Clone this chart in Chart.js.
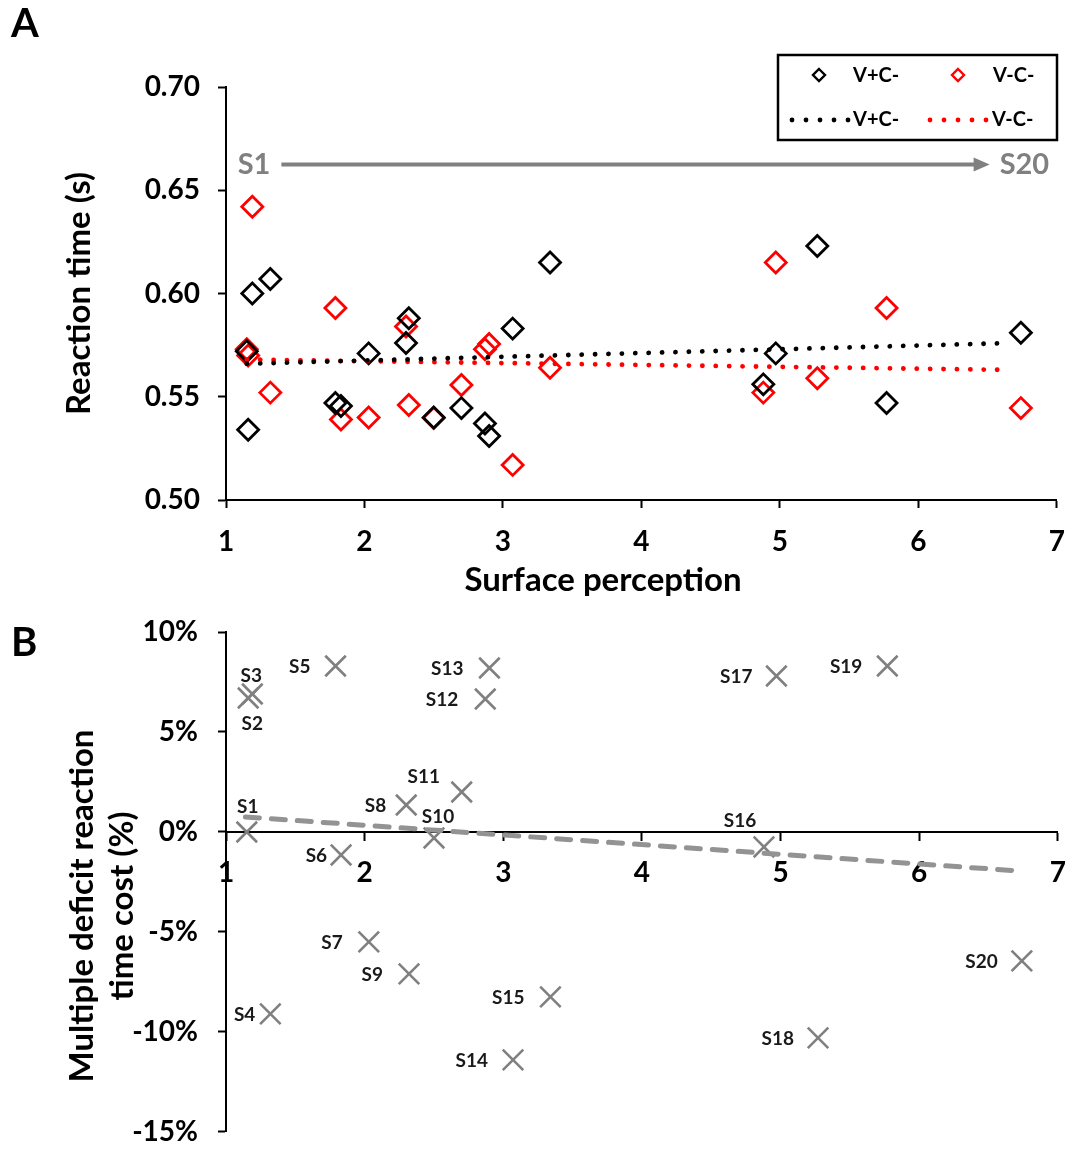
<!DOCTYPE html>
<html>
<head>
<meta charset="utf-8">
<script src="https://cdn.jsdelivr.net/npm/chart.js@4.4.1/dist/chart.umd.min.js"></script>
<style>
  html, body { margin: 0; padding: 0; background: #fff; }
  #wrap { position: relative; width: 1082px; height: 1149px; }
  canvas { position: absolute; left: 0; }
  #chartA { top: 0; }
  #chartB { top: 600px; }
</style>
</head>
<body>
<div id="wrap">
  <canvas id="chartA" width="1082" height="600"></canvas>
  <canvas id="chartB" width="1082" height="549"></canvas>
</div>
<script>
// subjects, ordered by surface perception score
const subjects = ["S1", "S2", "S3", "S4", "S5", "S6", "S7", "S8", "S9", "S10",
  "S11", "S12", "S13", "S14", "S15", "S16", "S17", "S18", "S19", "S20"];
const surface = [1.15, 1.16, 1.19, 1.32, 1.79, 1.83, 2.03, 2.30, 2.32, 2.50,
  2.70, 2.87, 2.90, 3.07, 3.34, 4.88, 4.97, 5.27, 5.77, 6.74];

// panel A: reaction time (s)
const rtVplusCminus = [0.572, 0.534, 0.600, 0.607, 0.547, 0.5455, 0.571, 0.576, 0.588, 0.540,
  0.5445, 0.537, 0.531, 0.583, 0.615, 0.556, 0.571, 0.623, 0.547, 0.581];
const rtVminusCminus = [0.573, 0.570, 0.642, 0.552, 0.593, 0.539, 0.540, 0.584, 0.546, 0.5397,
  0.5557, 0.573, 0.5755, 0.517, 0.564, 0.552, 0.615, 0.559, 0.593, 0.5445];

// linear trend lines (end points)
const trendAx = [1.15, 6.65];
const trendVplus = [0.566, 0.576];
const trendVminus = [0.568, 0.563];

// panel B: multiple deficit reaction time cost (%)
const deficitCost = [0.0, 6.7, 6.9, -9.1, 8.3, -1.15, -5.5, 1.35, -7.1, -0.3,
  2.0, 6.65, 8.2, -11.4, -8.25, -0.75, 7.8, -10.3, 8.3, -6.45];
const trendBx = [1.14, 6.72];
const trendCost = [0.75, -1.95];

const yTicksA = [0.5, 0.7, 0.05];
const yTicksB = [-15, 10, 5];

// subject label placement: [dx, dy] = centred offset, number = gap to the left
const labelPlace = [[1, -25], [4, 26], [-1, -18], 15, 25, 14, 26, 20, 26, [4, -21],
  [-38, -15], 27, 26, 25, 26, [-24, -26], 24, 24, 25, 24];

const FONT = 'Lato, "Open Sans", sans-serif';
Chart.defaults.font.family = FONT;
Chart.defaults.color = "#000";

const BLACK = "#000000";
const RED = "#ff0000";
const GREY = "#808080";

const pts = (xs, ys) => xs.map((v, i) => ({ x: v, y: ys[i] }));

const axisBase = {
  grid: { drawOnChartArea: false, drawTicks: true, tickLength: 8, tickColor: "#000", tickWidth: 2 },
  border: { display: true, color: "#000", width: 2 },
};
const tickFont = { size: 28, weight: "bold" };

// y label overflow should not shrink the plot area
function fixedWidth(s) {
  s.width = 226;
  s.paddingTop = 0;
  s.paddingBottom = 0;
}

// ---------- panel A ----------
function diamond(ctx, x, y, r, color) {
  ctx.beginPath();
  ctx.moveTo(x, y - r);
  ctx.lineTo(x + r, y);
  ctx.lineTo(x, y + r);
  ctx.lineTo(x - r, y);
  ctx.closePath();
  ctx.strokeStyle = color;
  ctx.lineWidth = 2.4;
  ctx.stroke();
}

function dots(ctx, x0, x1, y, color) {
  ctx.fillStyle = color;
  for (let x = x0; x <= x1 + 0.5; x += 14) {
    ctx.beginPath();
    ctx.arc(x, y, 2.4, 0, Math.PI * 2);
    ctx.fill();
  }
}

const extrasA = {
  id: "extrasA",
  afterDraw(chart) {
    const { ctx, scales: { x, y } } = chart;
    ctx.save();
    ctx.fillStyle = "#000";
    ctx.textBaseline = "middle";
    ctx.textAlign = "left";
    ctx.font = "bold 40px " + FONT;
    ctx.fillText("A", 11, 24);

    ctx.textAlign = "center";
    ctx.font = "bold 33px " + FONT;
    ctx.fillText("Surface perception", 603, 580);

    // S1 -> S20 ordering arrow
    const ay = y.getPixelForValue(0.6625);
    const ax0 = x.getPixelForValue(1.4);
    const ax1 = x.getPixelForValue(6.5);
    ctx.strokeStyle = GREY;
    ctx.fillStyle = GREY;
    ctx.lineWidth = 4;
    ctx.beginPath();
    ctx.moveTo(ax0, ay);
    ctx.lineTo(ax1 - 10, ay);
    ctx.stroke();
    ctx.beginPath();
    ctx.moveTo(ax1 + 2, ay);
    ctx.lineTo(ax1 - 14, ay - 7);
    ctx.lineTo(ax1 - 14, ay + 7);
    ctx.closePath();
    ctx.fill();
    ctx.font = "bold 29px " + FONT;
    ctx.textAlign = "right";
    ctx.fillText(subjects[0], ax0 - 11, ay);
    ctx.textAlign = "left";
    ctx.fillText(subjects[subjects.length - 1], ax1 + 12, ay);

    // legend box
    ctx.strokeStyle = "#000";
    ctx.lineWidth = 2.5;
    ctx.strokeRect(778, 55, 279, 85);
    ctx.fillStyle = "#000";
    ctx.font = "bold 20px " + FONT;
    ctx.textAlign = "left";
    diamond(ctx, 819, 75, 6, BLACK);
    ctx.fillText("V+C-", 853, 76);
    diamond(ctx, 958, 75, 6, RED);
    ctx.fillStyle = "#000";
    ctx.fillText("V-C-", 993, 76);
    dots(ctx, 792, 848, 120, BLACK);
    ctx.fillStyle = "#000";
    ctx.fillText("V+C-", 853, 120);
    dots(ctx, 930, 986, 120, RED);
    ctx.fillStyle = "#000";
    ctx.fillText("V-C-", 992, 120);
    ctx.restore();
  },
};

new Chart(document.getElementById("chartA"), {
  type: "scatter",
  data: {
    datasets: [
      {
        label: "V+C- trend",
        type: "line",
        data: pts(trendAx, trendVplus),
        borderColor: BLACK,
        borderWidth: 4.8,
        borderDash: [0.1, 13.3],
        borderCapStyle: "round",
        pointRadius: 0,
        order: 0,
      },
      {
        label: "V-C- trend",
        type: "line",
        data: pts(trendAx, trendVminus),
        borderColor: RED,
        borderWidth: 4.8,
        borderDash: [0.1, 13.3],
        borderCapStyle: "round",
        pointRadius: 0,
        order: 1,
      },
      {
        label: "V+C-",
        data: pts(surface, rtVplusCminus),
        pointStyle: "rectRot",
        pointRadius: 10.5,
        borderWidth: 2.8,
        borderColor: BLACK,
        backgroundColor: "rgba(0,0,0,0)",
        order: 2,
      },
      {
        label: "V-C-",
        data: pts(surface, rtVminusCminus),
        pointStyle: "rectRot",
        pointRadius: 10.5,
        borderWidth: 2.8,
        borderColor: RED,
        backgroundColor: "rgba(0,0,0,0)",
        order: 3,
      },
    ],
  },
  options: {
    responsive: false,
    animation: false,
    layout: { padding: { top: 87, right: 20, left: 0, bottom: 0 } },
    plugins: { legend: { display: false }, tooltip: { enabled: false } },
    scales: {
      x: {
        ...axisBase,
        type: "linear",
        min: 1,
        max: 7,
        ticks: { stepSize: 1, color: "#000", font: tickFont, padding: 17 },
        afterFit: (s) => { s.height = 100; },
      },
      y: {
        ...axisBase,
        min: yTicksA[0],
        max: yTicksA[1],
        ticks: { stepSize: yTicksA[2], color: "#000", font: tickFont, padding: 18,
          callback: (v) => v.toFixed(2) },
        title: { display: true, text: "Reaction time (s)", color: "#000",
          font: { size: 33, weight: "bold" }, padding: { top: 60, bottom: 0 } },
        afterFit: fixedWidth,
      },
    },
  },
  plugins: [extrasA],
});

// ---------- panel B ----------
const extrasB = {
  id: "extrasB",
  afterDatasetsDraw(chart) {
    const { ctx } = chart;
    const meta = chart.getDatasetMeta(1);
    ctx.save();
    ctx.fillStyle = "#1a1a1a";
    ctx.font = "bold 19px " + FONT;
    ctx.textBaseline = "middle";
    meta.data.forEach((pt, i) => {
      const place = labelPlace[i];
      if (Array.isArray(place)) {
        ctx.textAlign = "center";
        ctx.fillText(subjects[i], pt.x + place[0], pt.y + place[1]);
      } else {
        ctx.textAlign = "right";
        ctx.fillText(subjects[i], pt.x - place, pt.y + 1);
      }
    });
    ctx.restore();
  },
  afterDraw(chart) {
    const { ctx } = chart;
    ctx.save();
    ctx.fillStyle = "#000";
    ctx.textBaseline = "middle";
    ctx.textAlign = "left";
    ctx.font = "bold 40px " + FONT;
    ctx.fillText("B", 11, 43);
    ctx.translate(0, 306);
    ctx.rotate(-Math.PI / 2);
    ctx.textAlign = "center";
    ctx.font = "bold 33px " + FONT;
    ctx.fillText("Multiple deficit reaction", 0, 82);
    ctx.fillText("time cost (%)", 0, 122);
    ctx.restore();
  },
};

new Chart(document.getElementById("chartB"), {
  type: "scatter",
  data: {
    datasets: [
      {
        label: "trend",
        type: "line",
        data: pts(trendBx, trendCost),
        borderColor: "#939393",
        borderWidth: 5,
        borderDash: [14, 12],
        borderCapStyle: "round",
        pointRadius: 0,
        order: 0,
      },
      {
        label: "cost",
        data: pts(surface, deficitCost),
        pointStyle: "crossRot",
        pointRadius: 14.5,
        borderWidth: 2.6,
        borderColor: GREY,
        backgroundColor: GREY,
        order: 1,
      },
    ],
  },
  options: {
    responsive: false,
    animation: false,
    layout: { padding: { top: 32, right: 20, left: 0, bottom: 14 } },
    plugins: { legend: { display: false }, tooltip: { enabled: false } },
    scales: {
      x: {
        ...axisBase,
        type: "linear",
        position: { y: 0 },
        min: 1,
        max: 7,
        ticks: { stepSize: 1, color: "#000", font: tickFont, padding: 16 },
        afterFit: (s) => { s.height = 0; },
      },
      y: {
        ...axisBase,
        min: yTicksB[0],
        max: yTicksB[1],
        ticks: { stepSize: yTicksB[2], color: "#000", font: tickFont, padding: 20,
          callback: (v) => v + "%" },
        afterFit: fixedWidth,
      },
    },
  },
  plugins: [extrasB],
});
</script>
</body>
</html>
